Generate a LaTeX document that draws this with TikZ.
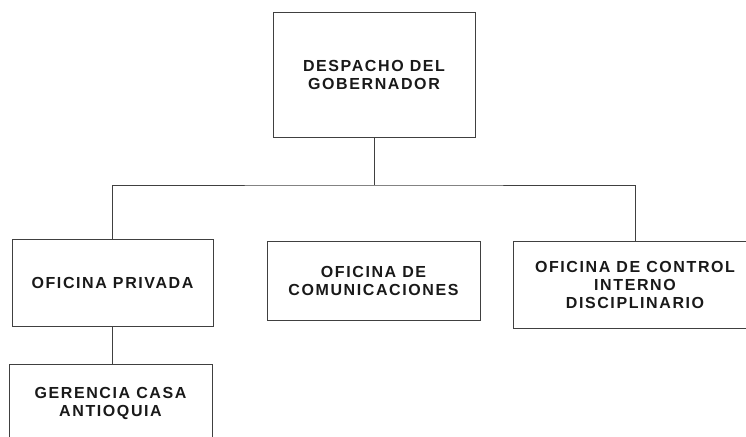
\documentclass[tikz,border=0pt]{standalone}
\usepackage{fontspec}
\setmainfont{Liberation Sans}[LetterSpace=10]
\begin{document}
\begin{tikzpicture}[x=1pt,y=-1pt,
  box/.style={draw=black!75,line width=0.8pt,inner sep=0pt,align=center,
    font=\fontsize{16}{18}\selectfont\bfseries,text=black!90},
  link/.style={draw=black!75,line width=0.8pt}]
\useasboundingbox (0,0) rectangle (746,436);
\clip (0,0) rectangle (746,436);
\node[box,minimum width=202pt,minimum height=125pt] (top) at (374,74.5) {DESPACHO DEL\\GOBERNADOR};
\node[box,minimum width=201pt,minimum height=87pt] (priv) at (112.5,282.5) {OFICINA PRIVADA};
\node[box,minimum width=213pt,minimum height=79pt] (com) at (373.5,280.5) {OFICINA DE\\COMUNICACIONES};
\node[box,minimum width=244pt,minimum height=87pt] (ctrl) at (635,284.5) {OFICINA DE CONTROL\\INTERNO\\DISCIPLINARIO};
\node[box,minimum width=203pt,minimum height=78pt] (ger) at (110.5,403) {GERENCIA CASA\\ANTIOQUIA};
\coordinate (bus) at (374,185);
\draw[link] (top.south) -- (bus);
\draw[link] (priv.north) |- (bus) -| (ctrl.north);
\draw[link] (priv.south) -- (priv.south |- ger.north);
\end{tikzpicture}
\end{document}
